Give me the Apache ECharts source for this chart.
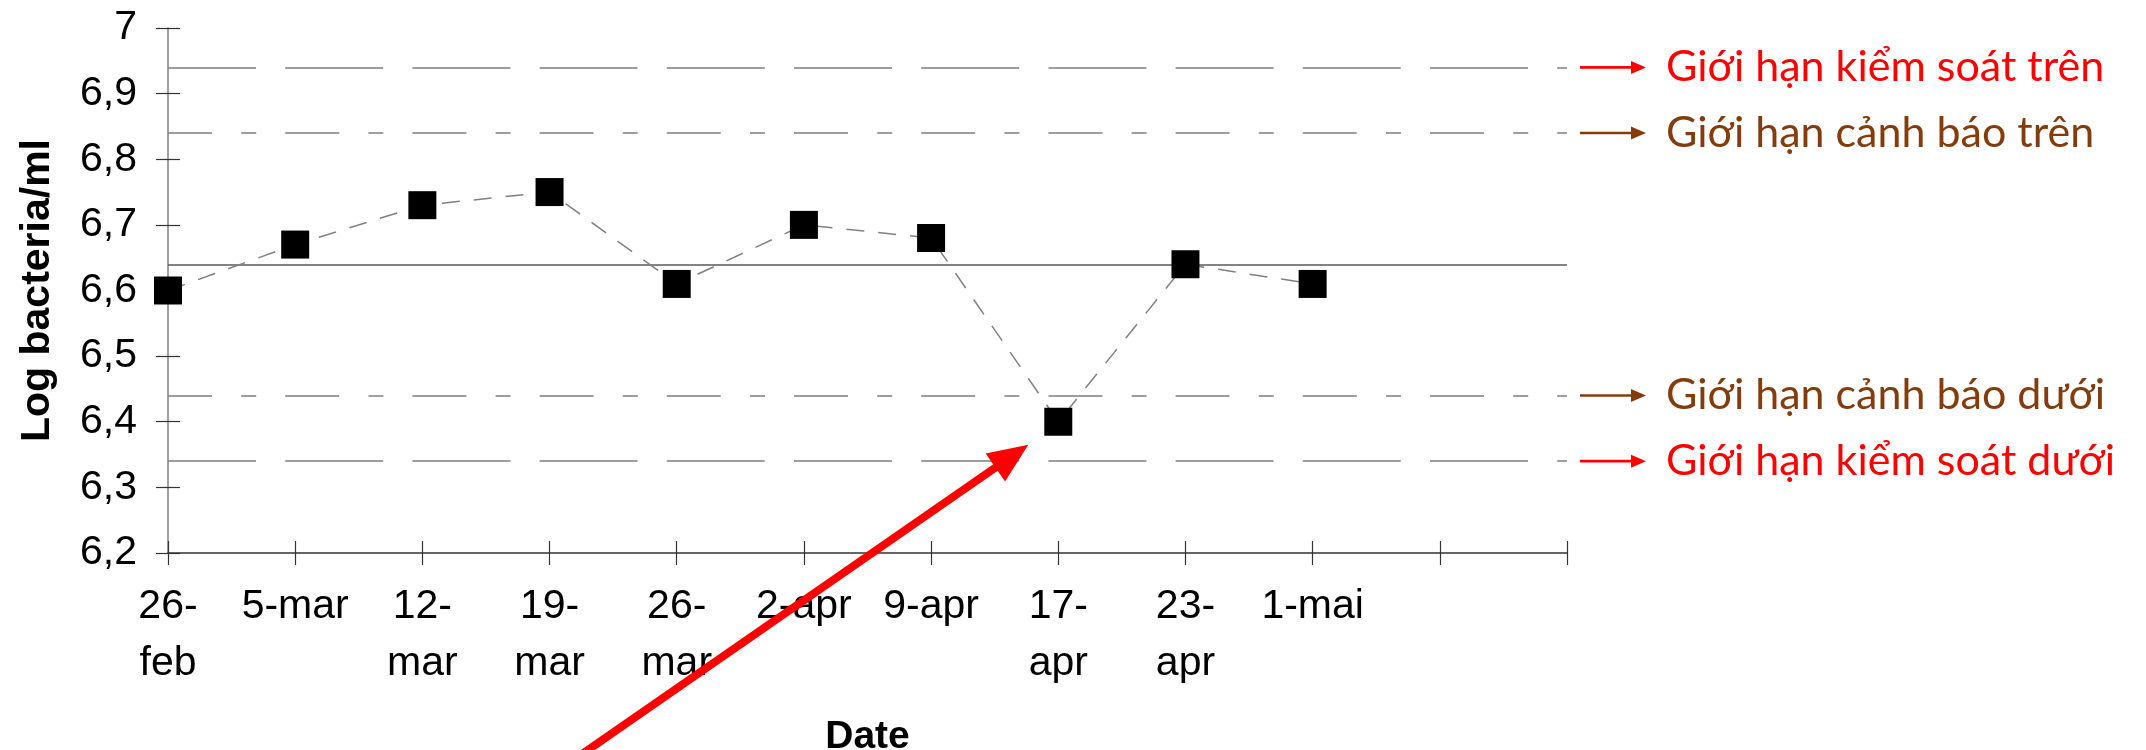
<!DOCTYPE html>
<html><head><meta charset="utf-8">
<script src="https://cdn.jsdelivr.net/npm/echarts@6/dist/echarts.min.js"></script>
<style>html,body{margin:0;padding:0;background:#fff}#c{width:2146px;height:750px}</style>
</head><body><div id="c"></div>
<script>
// ---- data ----
const categories = ['26-\nfeb','5-mar','12-\nmar','19-\nmar','26-\nmar','2-apr','9-apr','17-\napr','23-\napr','1-mai','',''];
const values = [6.60, 6.67, 6.73, 6.75, 6.61, 6.70, 6.68, 6.40, 6.64, 6.61];
const yMin = 6.2, yMax = 7, yStep = 0.1;
const limitValues = [6.94, 6.84, 6.64, 6.44, 6.34];
const limitKinds  = ['control', 'warning', 'center', 'warning', 'control'];
const annotationTexts  = ['Giới hạn kiểm soát trên', 'Giới hạn cảnh báo trên', null, 'Giới hạn cảnh báo dưới', 'Giới hạn kiểm soát dưới'];
const annotationColors = ['#ff0000', '#843c0c', null, '#843c0c', '#ff0000'];
const flaggedIndex = 7;
const xName = 'Date', yName = 'Log bacteria/ml';

// ---- styles ----
const dashStyles = {
  control: { type: [98, 29.2], dashOffset: 10, color: '#7f7f7f', width: 1.6 },
  warning: { type: [54, 29.2, 15, 29], dashOffset: 10, color: '#7f7f7f', width: 1.6 },
  center:  { type: 'solid', color: '#595959', width: 1.6 }
};
const fmt = v => (Math.round(v * 10) / 10).toString().replace('.', ',');

const chart = echarts.init(document.getElementById('c'), null, { renderer: 'canvas' });

chart.setOption({
  animation: false,
  backgroundColor: '#ffffff',
  grid: { left: 168, right: 579, top: 28, bottom: 197, containLabel: false, outerBoundsMode: 'none' },
  xAxis: [{
    type: 'category', data: categories, boundaryGap: false,
    name: xName, nameLocation: 'middle', nameGap: 165, nameMoveOverlap: false,
    nameTextStyle: { fontFamily: 'Liberation Sans', fontWeight: 'bold', fontSize: 39, color: '#000' },
    axisLine: { lineStyle: { color: '#333', width: 1.5 } },
    axisTick: { show: true, inside: false, length: 12, alignWithLabel: true, lineStyle: { color: '#333', width: 1.2 } },
    axisLabel: { interval: 0, margin: 25, fontFamily: 'Liberation Sans', fontSize: 41, lineHeight: 57, color: '#000' },
    splitLine: { show: false }
  }, {
    type: 'category', data: categories, boundaryGap: false, position: 'bottom',
    axisLine: { show: false },
    axisTick: { show: true, inside: true, length: 12, lineStyle: { color: '#333', width: 1.2 } },
    axisLabel: { show: false }, splitLine: { show: false }
  }],
  yAxis: [{
    type: 'value', min: yMin, max: yMax, interval: yStep,
    name: yName, nameLocation: 'middle', nameGap: 110, nameRotate: 90, nameMoveOverlap: false,
    nameTextStyle: { fontFamily: 'Liberation Sans', fontWeight: 'bold', fontSize: 41, color: '#000' },
    axisLine: { show: true, lineStyle: { color: '#808080', width: 1.5 } },
    axisTick: { show: true, inside: false, length: 12, lineStyle: { color: '#333', width: 1.2 } },
    axisLabel: { margin: 31, formatter: fmt, fontFamily: 'Liberation Sans', fontSize: 41, color: '#000' },
    splitLine: { show: false }
  }, {
    type: 'value', min: yMin, max: yMax, interval: yStep, position: 'left',
    axisLine: { show: false },
    axisTick: { show: true, inside: true, length: 12, lineStyle: { color: '#333', width: 1.2 } },
    axisLabel: { show: false }, splitLine: { show: false }
  }],
  series: [{
    type: 'line',
    data: values,
    symbol: 'rect', symbolSize: 28,
    itemStyle: { color: '#000' },
    lineStyle: { color: '#808080', width: 1.5, type: [18, 14] },
    z: 5,
    markLine: {
      silent: true, symbol: ['none', 'none'], label: { show: false },
      data: limitValues.map((v, i) => ({ yAxis: v, lineStyle: dashStyles[limitKinds[i]] }))
    }
  }]
});

function arrowGraphics(x1, y1, x2, y2, width, headLen, headW, color) {
  const dx = x2 - x1, dy = y2 - y1, L = Math.hypot(dx, dy);
  const ux = dx / L, uy = dy / L;
  const bx = x2 - ux * headLen, by = y2 - uy * headLen;
  const px = -uy * headW / 2, py = ux * headW / 2;
  return [
    { type: 'line', shape: { x1, y1, x2: x2 - ux * headLen * 0.7, y2: y2 - uy * headLen * 0.7 }, style: { stroke: color, lineWidth: width }, z: 100 },
    { type: 'polygon', shape: { points: [[x2, y2], [bx + px, by + py], [bx - px, by - py]] }, style: { fill: color }, z: 100 }
  ];
}

const xEnd = chart.convertToPixel({ xAxisIndex: 0 }, categories.length - 1);
const graphics = [];
limitValues.forEach((v, i) => {
  if (!annotationTexts[i]) return;
  const y = chart.convertToPixel({ yAxisIndex: 0 }, v);
  graphics.push(...arrowGraphics(xEnd + 13, y, xEnd + 79, y, 2.6, 15, 13, annotationColors[i]));
  graphics.push({
    type: 'text', x: xEnd + 99, y: y, z: 100,
    style: { text: annotationTexts[i], fill: annotationColors[i], font: '43px Lato', textVerticalAlign: 'middle', textAlign: 'left' }
  });
});
const pt = chart.convertToPixel({ xAxisIndex: 0, yAxisIndex: 0 }, [flaggedIndex, values[flaggedIndex]]);
const tip = [pt[0] - 30, pt[1] + 23];
graphics.push(...arrowGraphics(tip[0] - 440 * 1.3, tip[1] + 305 * 1.3, tip[0], tip[1], 8, 40, 34, '#ff0000'));
chart.setOption({ graphic: graphics });
</script>
</body></html>
